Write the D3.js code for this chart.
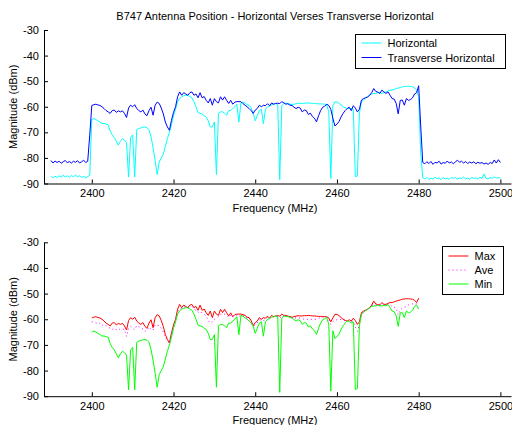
<!DOCTYPE html>
<html>
<head>
<meta charset="utf-8">
<script src="https://cdn.jsdelivr.net/npm/d3@7"></script>
<style>
  html, body { margin: 0; padding: 0; background: #fff; }
  svg { display: block; font-family: Arial, "Liberation Sans", Helvetica, sans-serif; }
</style>
</head>
<body>
<svg id="chart" width="512" height="425"></svg>
<script>
// Spectrum sweep, 0.5 MHz bins
const freqMHz = [
  2390,2390.5,2391,2391.5,2392,2392.5,2393,2393.5,2394,2394.5,
  2395,2395.5,2396,2396.5,2397,2397.5,2398,2398.5,2399,2399.5,
  2400,2400.5,2401,2401.5,2402,2402.5,2403,2403.5,2404,2404.5,
  2405,2405.5,2406,2406.5,2407,2407.5,2408,2408.5,2409,2409.5,
  2410,2410.5,2411,2411.5,2412,2412.5,2413,2413.5,2414,2414.5,
  2415,2415.5,2416,2416.5,2417,2417.5,2418,2418.5,2419,2419.5,
  2420,2420.5,2421,2421.5,2422,2422.5,2423,2423.5,2424,2424.5,
  2425,2425.5,2426,2426.5,2427,2427.5,2428,2428.5,2429,2429.5,
  2430,2430.5,2431,2431.5,2432,2432.5,2433,2433.5,2434,2434.5,
  2435,2435.5,2436,2436.5,2437,2437.5,2438,2438.5,2439,2439.5,
  2440,2440.5,2441,2441.5,2442,2442.5,2443,2443.5,2444,2444.5,
  2445,2445.5,2446,2446.5,2447,2447.5,2448,2448.5,2449,2449.5,
  2450,2450.5,2451,2451.5,2452,2452.5,2453,2453.5,2454,2454.5,
  2455,2455.5,2456,2456.5,2457,2457.5,2458,2458.5,2459,2459.5,
  2460,2460.5,2461,2461.5,2462,2462.5,2463,2463.5,2464,2464.5,
  2465,2465.5,2466,2466.5,2467,2467.5,2468,2468.5,2469,2469.5,
  2470,2470.5,2471,2471.5,2472,2472.5,2473,2473.5,2474,2474.5,
  2475,2475.5,2476,2476.5,2477,2477.5,2478,2478.5,2479,2479.5,
  2480,2480.5,2481,2481.5,2482,2482.5,2483,2483.5,2484,2484.5,
  2485,2485.5,2486,2486.5,2487,2487.5,2488,2488.5,2489,2489.5,
  2490,2490.5,2491,2491.5,2492,2492.5,2493,2493.5,2494,2494.5,
  2495,2495.5,2496,2496.5,2497,2497.5,2498,2498.5,2499,2499.5,
  2500
];

// Horizontal antenna position (dBm)
const horizontalDbm = [
  -87.0,-87.8,-87.2,-87.6,-87.0,-87.5,-86.8,-87.4,-87.0,-87.6,
  -86.9,-87.3,-86.7,-87.4,-87.0,-87.6,-87.2,-87.8,-87.3,-86.8,
  -65.0,-64.6,-65.0,-65.5,-66.0,-66.6,-66.5,-66.8,-67.0,-69.5,
  -71.0,-72.0,-73.5,-75.0,-73.5,-72.5,-73.0,-74.0,-87.5,-72.0,
  -71.0,-87.5,-69.0,-68.5,-68.3,-68.0,-67.9,-68.2,-69.0,-71.8,
  -76.0,-81.0,-86.5,-81.6,-80.0,-78.5,-75.5,-72.5,-70.0,-67.0,
  -63.5,-61.0,-58.0,-56.8,-56.0,-55.7,-55.5,-55.6,-56.0,-56.5,
  -58.0,-60.0,-62.3,-62.6,-62.8,-63.5,-64.0,-65.5,-67.9,-67.9,
  -66.0,-86.5,-62.6,-62.0,-62.0,-62.6,-63.3,-61.5,-61.5,-60.7,
  -60.0,-59.0,-66.0,-58.5,-58.2,-58.5,-59.2,-59.4,-60.5,-62.5,
  -65.5,-63.5,-61.5,-61.0,-66.6,-61.0,-60.0,-59.8,-59.2,-59.0,
  -58.7,-59.0,-88.5,-59.6,-58.7,-58.5,-58.8,-59.0,-59.2,-59.0,
  -58.8,-58.6,-58.7,-58.7,-58.6,-58.6,-58.5,-58.6,-58.7,-58.7,
  -58.8,-58.9,-58.9,-58.9,-59.0,-59.3,-62.0,-88.0,-59.5,-58.1,
  -58.1,-58.6,-59.3,-60.0,-60.4,-60.7,-60.7,-60.7,-61.0,-87.4,
  -87.0,-62.5,-58.0,-57.4,-56.5,-56.0,-55.5,-55.0,-54.8,-54.8,
  -54.5,-54.4,-54.8,-54.5,-54.2,-53.8,-53.5,-53.5,-53.2,-52.9,
  -52.7,-52.5,-52.2,-52.1,-52.0,-52.0,-52.1,-52.2,-52.6,-53.5,
  -56.0,-78.0,-87.7,-88.2,-87.6,-88.4,-87.9,-88.3,-87.5,-88.1,
  -87.8,-88.5,-87.7,-88.2,-87.9,-88.4,-87.6,-88.0,-87.7,-88.3,
  -87.8,-88.1,-87.5,-88.2,-87.9,-88.4,-87.6,-88.0,-87.8,-88.3,
  -87.5,-88.1,-86.3,-87.9,-88.2,-87.6,-88.0,-87.4,-87.9,-87.6,
  -88.0
];

// Transverse horizontal antenna position (dBm)
const transverseDbm = [
  -81.0,-82.0,-81.2,-81.8,-81.3,-82.1,-81.5,-81.0,-81.9,-81.4,
  -82.0,-81.3,-81.7,-81.1,-82.0,-81.5,-80.9,-81.8,-81.3,-71.0,
  -59.5,-59.2,-59.0,-59.3,-59.5,-60.0,-60.7,-61.5,-62.0,-62.6,
  -61.5,-61.3,-62.2,-61.6,-62.0,-61.6,-62.6,-64.2,-60.5,-59.4,
  -60.0,-59.2,-60.7,-61.5,-62.0,-61.3,-62.8,-63.5,-61.5,-60.2,
  -63.3,-59.4,-58.2,-58.7,-60.5,-62.8,-66.0,-67.9,-69.2,-65.3,
  -62.2,-60.0,-56.1,-54.2,-55.5,-54.5,-55.0,-55.5,-54.5,-54.2,
  -55.5,-55.0,-56.5,-54.5,-56.5,-56.0,-57.5,-58.5,-56.8,-59.4,
  -56.8,-58.0,-58.5,-56.1,-57.4,-56.1,-57.5,-58.7,-57.5,-59.0,
  -58.2,-58.0,-58.0,-58.0,-58.8,-59.4,-60.0,-60.7,-61.5,-62.6,
  -61.3,-60.7,-59.4,-60.0,-59.4,-59.6,-58.8,-59.6,-58.5,-59.0,
  -58.7,-58.6,-58.8,-58.0,-58.5,-59.0,-58.8,-59.4,-59.5,-60.2,
  -60.7,-60.2,-60.5,-62.0,-61.3,-61.5,-63.0,-62.5,-63.8,-64.5,
  -65.9,-63.5,-61.5,-60.2,-59.8,-59.0,-59.5,-61.0,-64.5,-67.5,
  -66.8,-65.8,-64.0,-62.6,-61.5,-60.7,-60.2,-61.5,-59.6,-60.5,
  -62.0,-61.0,-57.4,-56.8,-56.5,-56.2,-55.5,-54.5,-52.9,-54.0,
  -54.3,-54.8,-53.5,-54.2,-54.8,-54.2,-55.5,-56.8,-57.0,-58.7,
  -62.8,-57.5,-57.4,-59.4,-56.8,-57.5,-57.2,-56.5,-55.0,-54.5,
  -51.8,-67.5,-81.8,-82.3,-81.5,-82.2,-81.4,-82.5,-81.7,-82.0,
  -81.3,-82.4,-81.8,-82.1,-81.2,-82.0,-81.6,-82.3,-81.5,-80.9,
  -81.7,-81.3,-82.0,-81.4,-82.2,-81.6,-82.0,-81.5,-82.3,-81.7,
  -82.1,-81.8,-82.4,-82.0,-82.5,-81.8,-82.2,-80.8,-82.0,-80.7,
  -81.8
];

// Average over the sweeps, 2400-2480 MHz (dBm)
const aveDbm = [
  -61.0,-61.2,-61.5,-61.3,-61.6,-62.5,-62.0,-62.5,-63.2,-63.5,
  -64.0,-63.5,-64.0,-64.3,-63.6,-63.8,-64.0,-66.7,-63.5,-62.8,
  -63.5,-64.1,-62.5,-62.8,-63.3,-63.8,-64.7,-64.2,-63.0,-64.0,
  -64.3,-62.2,-62.3,-62.5,-63.5,-65.0,-67.0,-68.5,-69.5,-66.0,
  -62.8,-60.5,-57.0,-56.0,-55.7,-55.2,-55.2,-55.5,-55.3,-55.0,
  -56.0,-56.5,-57.3,-57.0,-57.6,-58.0,-58.9,-60.5,-61.5,-61.0,
  -60.0,-59.5,-59.0,-58.0,-58.2,-58.0,-58.3,-59.3,-58.5,-59.3,
  -58.5,-58.4,-59.0,-58.3,-58.6,-59.0,-59.6,-60.0,-61.0,-62.5,
  -62.2,-61.5,-60.2,-60.4,-60.5,-60.2,-59.3,-59.7,-58.8,-59.0,
  -58.7,-58.8,-59.5,-58.8,-58.6,-58.8,-58.8,-59.2,-59.3,-59.5,
  -59.5,-59.4,-59.6,-59.8,-60.0,-60.0,-60.0,-60.0,-60.0,-60.1,
  -60.0,-59.7,-59.3,-59.2,-59.3,-59.2,-60.0,-62.0,-60.9,-60.4,
  -60.2,-60.0,-60.1,-60.2,-60.6,-60.7,-60.5,-61.0,-60.9,-63.0,
  -64.7,-62.0,-57.8,-57.0,-56.5,-56.1,-55.5,-54.8,-54.2,-54.4,
  -54.4,-54.6,-54.3,-54.4,-54.4,-54.0,-54.5,-55.0,-55.3,-55.6,
  -58.3,-56.3,-55.6,-55.3,-55.0,-54.4,-54.2,-54.0,-54.2,-54.0,
  -53.8
];

const xTicks = [2400, 2420, 2440, 2460, 2480, 2500];
const yTicks = [-30, -40, -50, -60, -70, -80, -90];
const bandLimitsMHz = [2400, 2480];

const titleText = "B747 Antenna Position - Horizontal Verses Transverse Horizontal";
const xLabel = "Frequency (MHz)";
const yLabel = "Magnitude (dBm)";

// Max / Min envelope of the two antenna positions inside the band
const bandIdx = d3.range(freqMHz.length)
  .filter(i => freqMHz[i] >= bandLimitsMHz[0] && freqMHz[i] <= bandLimitsMHz[1]);
const bandFreq = bandIdx.map(i => freqMHz[i]);
const maxDbm = bandIdx.map(i => Math.max(horizontalDbm[i], transverseDbm[i]));
const minDbm = bandIdx.map(i => Math.min(horizontalDbm[i], transverseDbm[i]));

const svg = d3.select("#chart");
const FONT = 11;
// plain ASCII hyphen for negative tick labels
const plainNum = d => String(d);

const x = d3.scaleLinear().domain([2388.3, 2502.6]).range([44, 511]);

function drawPanel(top, bottom) {
  const y = d3.scaleLinear().domain([-90, -30]).range([bottom, top]);
  const g = svg.append("g");

  g.append("g")
    .attr("transform", `translate(0,${bottom})`)
    .call(d3.axisBottom(x).tickValues(xTicks).tickFormat(plainNum)
      .tickSizeInner(-4).tickSizeOuter(0).tickPadding(6))
    .call(a => a.selectAll("text").attr("font-size", FONT).attr("fill", "#000")
      .attr("font-family", "Arial, 'Liberation Sans', sans-serif"))
    .call(a => a.selectAll("line,path").attr("stroke", "#000"));

  g.append("g")
    .attr("transform", `translate(44,0)`)
    .call(d3.axisLeft(y).tickValues(yTicks).tickFormat(plainNum)
      .tickSizeInner(-4).tickSizeOuter(0).tickPadding(5))
    .call(a => a.selectAll("text").attr("font-size", FONT).attr("fill", "#000")
      .attr("font-family", "Arial, 'Liberation Sans', sans-serif"))
    .call(a => a.selectAll("line,path").attr("stroke", "#000"));

  g.append("text")
    .attr("x", 275).attr("y", bottom + 28)
    .attr("text-anchor", "middle").attr("font-size", FONT)
    .text(xLabel);

  g.append("text")
    .attr("transform", `translate(17,${(top + bottom) / 2}) rotate(-90)`)
    .attr("text-anchor", "middle").attr("font-size", FONT)
    .text(yLabel);

  return { g, y };
}

function plotLine(g, y, xs, ys, color, dash) {
  const line = d3.line().x((d, i) => x(xs[i])).y(d => y(d));
  const p = g.append("path")
    .datum(ys)
    .attr("d", line)
    .attr("fill", "none")
    .attr("stroke", color)
    .attr("stroke-width", 1)
    .attr("stroke-linejoin", "round");
  if (dash) p.attr("stroke-dasharray", dash);
}

function legend(g, x0, y0, w, rowY, entries) {
  const lg = g.append("g");
  lg.append("rect")
    .attr("x", x0).attr("y", y0).attr("width", w)
    .attr("height", rowY.length * 14 + 6)
    .attr("fill", "#fff").attr("stroke", "#000").attr("stroke-width", 1);
  entries.forEach((e, k) => {
    const cy = y0 + rowY[k];
    lg.append("line")
      .attr("x1", x0 + 6).attr("x2", x0 + 26)
      .attr("y1", cy).attr("y2", cy)
      .attr("stroke", e.color).attr("stroke-width", 1)
      .attr("stroke-dasharray", e.dash || null);
    lg.append("text")
      .attr("x", x0 + 32).attr("y", cy + 4)
      .attr("font-size", FONT)
      .text(e.label);
  });
}

// Title
svg.append("text")
  .attr("x", 275).attr("y", 20)
  .attr("text-anchor", "middle").attr("font-size", FONT)
  .text(titleText);

// Upper panel: both antenna positions across the whole sweep
const p1 = drawPanel(30, 183.5);
plotLine(p1.g, p1.y, freqMHz, horizontalDbm, "#00ffff");
plotLine(p1.g, p1.y, freqMHz, transverseDbm, "#0000ff");
legend(p1.g, 355.5, 34.5, 150, [8.5, 23], [
  { label: "Horizontal", color: "#00ffff" },
  { label: "Transverse Horizontal", color: "#0000ff" }
]);

// Lower panel: max / average / min inside the band
const p2 = drawPanel(242.3, 396.2);
plotLine(p2.g, p2.y, bandFreq, maxDbm, "#ff0000");
plotLine(p2.g, p2.y, bandFreq, aveDbm, "#ff00ff", "1,3");
plotLine(p2.g, p2.y, bandFreq, minDbm, "#00ff00");
legend(p2.g, 442.5, 246.5, 61, [9.5, 23.5, 37.5], [
  { label: "Max", color: "#ff0000" },
  { label: "Ave", color: "#ff00ff", dash: "1,3" },
  { label: "Min", color: "#00ff00" }
]);
</script>
</body>
</html>
